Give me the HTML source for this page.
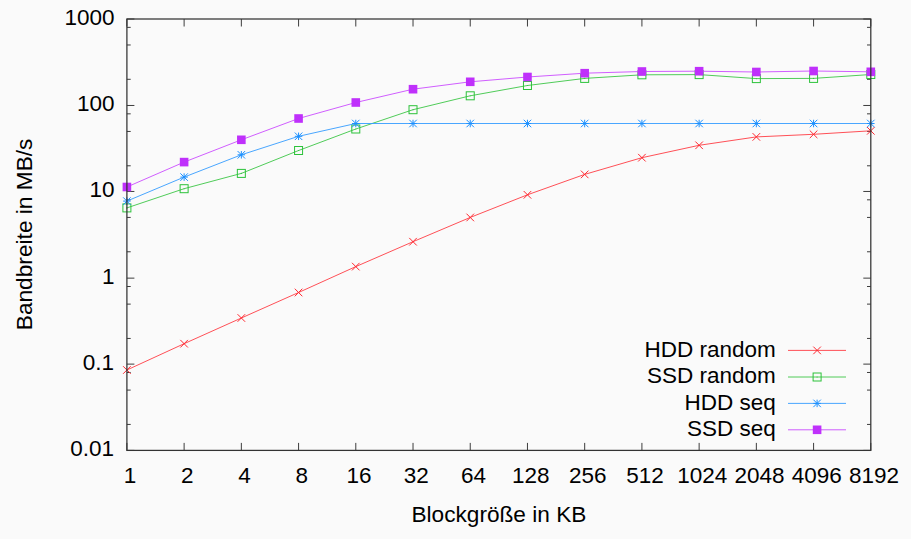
<!DOCTYPE html>
<html lang="de"><head><meta charset="utf-8"><title>Bandbreite</title>
<style>html,body{margin:0;padding:0;background:#fafafa;}svg{display:block;font-family:"Liberation Sans",sans-serif}</style></head>
<body>
<svg width="911" height="539" viewBox="0 0 911 539" font-size="22.5" fill="#000">
<rect width="911" height="539" fill="#fafafa"/>
<path d="M126.90 19.00h7.5M870.80 19.00h-7.5M126.90 27.36h3.8M870.80 27.36h-3.8M126.90 44.97h3.8M870.80 44.97h-3.8M126.90 79.31h3.8M870.80 79.31h-3.8M126.90 105.48h7.5M870.80 105.48h-7.5M126.90 113.84h3.8M870.80 113.84h-3.8M126.90 131.45h3.8M870.80 131.45h-3.8M126.90 165.79h3.8M870.80 165.79h-3.8M126.90 191.46h7.5M870.80 191.46h-7.5M126.90 199.82h3.8M870.80 199.82h-3.8M126.90 217.43h3.8M870.80 217.43h-3.8M126.90 251.77h3.8M870.80 251.77h-3.8M126.90 278.14h7.5M870.80 278.14h-7.5M126.90 286.50h3.8M870.80 286.50h-3.8M126.90 304.11h3.8M870.80 304.11h-3.8M126.90 338.45h3.8M870.80 338.45h-3.8M126.90 364.12h7.5M870.80 364.12h-7.5M126.90 372.48h3.8M870.80 372.48h-3.8M126.90 390.09h3.8M870.80 390.09h-3.8M126.90 424.43h3.8M870.80 424.43h-3.8M126.90 450.40h7.5M870.80 450.40h-7.5M126.90 450.40v-7.5M126.90 19.00v7.5M184.12 450.40v-7.5M184.12 19.00v7.5M241.35 450.40v-7.5M241.35 19.00v7.5M298.57 450.40v-7.5M298.57 19.00v7.5M355.79 450.40v-7.5M355.79 19.00v7.5M413.02 450.40v-7.5M413.02 19.00v7.5M470.24 450.40v-7.5M470.24 19.00v7.5M527.46 450.40v-7.5M527.46 19.00v7.5M584.68 450.40v-7.5M584.68 19.00v7.5M641.91 450.40v-7.5M641.91 19.00v7.5M699.13 450.40v-7.5M699.13 19.00v7.5M756.35 450.40v-7.5M756.35 19.00v7.5M813.58 450.40v-7.5M813.58 19.00v7.5M870.80 450.40v-7.5M870.80 19.00v7.5" stroke="#333333" stroke-width="0.95" fill="none"/>
<text x="114.50" y="24.95" text-anchor="end">1000</text>
<text x="114.50" y="110.88" text-anchor="end">100</text>
<text x="114.50" y="196.96" text-anchor="end">10</text>
<text x="114.50" y="284.44" text-anchor="end">1</text>
<text x="114.10" y="369.52" text-anchor="end">0.1</text>
<text x="114.10" y="455.80" text-anchor="end">0.01</text>
<text x="130.10" y="482.5" text-anchor="middle">1</text>
<text x="187.32" y="482.5" text-anchor="middle">2</text>
<text x="244.55" y="482.5" text-anchor="middle">4</text>
<text x="301.77" y="482.5" text-anchor="middle">8</text>
<text x="358.99" y="482.5" text-anchor="middle">16</text>
<text x="416.22" y="482.5" text-anchor="middle">32</text>
<text x="473.44" y="482.5" text-anchor="middle">64</text>
<text x="530.66" y="482.5" text-anchor="middle">128</text>
<text x="587.88" y="482.5" text-anchor="middle">256</text>
<text x="645.11" y="482.5" text-anchor="middle">512</text>
<text x="702.33" y="482.5" text-anchor="middle">1024</text>
<text x="759.55" y="482.5" text-anchor="middle">2048</text>
<text x="816.78" y="482.5" text-anchor="middle">4096</text>
<text x="874.00" y="482.5" text-anchor="middle">8192</text>
<text x="498.9" y="522" font-size="22.65" text-anchor="middle">Blockgröße in KB</text>
<text transform="translate(31.9,234.4) rotate(-90)" font-size="22.7" text-anchor="middle">Bandbreite in MB/s</text>
<polyline points="126.90,370.00 184.12,343.70 241.35,318.00 298.57,292.50 355.79,266.60 413.02,241.70 470.24,217.45 527.46,194.80 584.68,174.40 641.91,157.70 699.13,145.30 756.35,136.90 813.58,134.30 870.80,130.80" stroke="#ff3c44" stroke-width="0.9" fill="none"/>
<path d="M123.10 366.20L130.70 373.80M123.10 373.80L130.70 366.20" stroke="#ff2830" stroke-width="1.0" fill="none"/>
<path d="M180.32 339.90L187.92 347.50M180.32 347.50L187.92 339.90" stroke="#ff2830" stroke-width="1.0" fill="none"/>
<path d="M237.55 314.20L245.15 321.80M237.55 321.80L245.15 314.20" stroke="#ff2830" stroke-width="1.0" fill="none"/>
<path d="M294.77 288.70L302.37 296.30M294.77 296.30L302.37 288.70" stroke="#ff2830" stroke-width="1.0" fill="none"/>
<path d="M351.99 262.80L359.59 270.40M351.99 270.40L359.59 262.80" stroke="#ff2830" stroke-width="1.0" fill="none"/>
<path d="M409.22 237.90L416.82 245.50M409.22 245.50L416.82 237.90" stroke="#ff2830" stroke-width="1.0" fill="none"/>
<path d="M466.44 213.65L474.04 221.25M466.44 221.25L474.04 213.65" stroke="#ff2830" stroke-width="1.0" fill="none"/>
<path d="M523.66 191.00L531.26 198.60M523.66 198.60L531.26 191.00" stroke="#ff2830" stroke-width="1.0" fill="none"/>
<path d="M580.88 170.60L588.48 178.20M580.88 178.20L588.48 170.60" stroke="#ff2830" stroke-width="1.0" fill="none"/>
<path d="M638.11 153.90L645.71 161.50M638.11 161.50L645.71 153.90" stroke="#ff2830" stroke-width="1.0" fill="none"/>
<path d="M695.33 141.50L702.93 149.10M695.33 149.10L702.93 141.50" stroke="#ff2830" stroke-width="1.0" fill="none"/>
<path d="M752.55 133.10L760.15 140.70M752.55 140.70L760.15 133.10" stroke="#ff2830" stroke-width="1.0" fill="none"/>
<path d="M809.78 130.50L817.38 138.10M809.78 138.10L817.38 130.50" stroke="#ff2830" stroke-width="1.0" fill="none"/>
<path d="M867.00 127.00L874.60 134.60M867.00 134.60L874.60 127.00" stroke="#ff2830" stroke-width="1.0" fill="none"/>
<polyline points="126.90,207.90 184.12,188.70 241.35,173.40 298.57,150.50 355.79,129.00 413.02,109.70 470.24,95.80 527.46,85.50 584.68,78.40 641.91,74.80 699.13,74.60 756.35,78.60 813.58,78.40 870.80,74.50" stroke="#3cc646" stroke-width="0.9" fill="none"/>
<rect x="122.90" y="203.90" width="8.00" height="8.00" stroke="#2cc23a" stroke-width="1.0" fill="none"/><circle cx="126.90" cy="207.90" r="0.55" fill="#2cc23a"/>
<rect x="180.12" y="184.70" width="8.00" height="8.00" stroke="#2cc23a" stroke-width="1.0" fill="none"/><circle cx="184.12" cy="188.70" r="0.55" fill="#2cc23a"/>
<rect x="237.35" y="169.40" width="8.00" height="8.00" stroke="#2cc23a" stroke-width="1.0" fill="none"/><circle cx="241.35" cy="173.40" r="0.55" fill="#2cc23a"/>
<rect x="294.57" y="146.50" width="8.00" height="8.00" stroke="#2cc23a" stroke-width="1.0" fill="none"/><circle cx="298.57" cy="150.50" r="0.55" fill="#2cc23a"/>
<rect x="351.79" y="125.00" width="8.00" height="8.00" stroke="#2cc23a" stroke-width="1.0" fill="none"/><circle cx="355.79" cy="129.00" r="0.55" fill="#2cc23a"/>
<rect x="409.02" y="105.70" width="8.00" height="8.00" stroke="#2cc23a" stroke-width="1.0" fill="none"/><circle cx="413.02" cy="109.70" r="0.55" fill="#2cc23a"/>
<rect x="466.24" y="91.80" width="8.00" height="8.00" stroke="#2cc23a" stroke-width="1.0" fill="none"/><circle cx="470.24" cy="95.80" r="0.55" fill="#2cc23a"/>
<rect x="523.46" y="81.50" width="8.00" height="8.00" stroke="#2cc23a" stroke-width="1.0" fill="none"/><circle cx="527.46" cy="85.50" r="0.55" fill="#2cc23a"/>
<rect x="580.68" y="74.40" width="8.00" height="8.00" stroke="#2cc23a" stroke-width="1.0" fill="none"/><circle cx="584.68" cy="78.40" r="0.55" fill="#2cc23a"/>
<rect x="637.91" y="70.80" width="8.00" height="8.00" stroke="#2cc23a" stroke-width="1.0" fill="none"/><circle cx="641.91" cy="74.80" r="0.55" fill="#2cc23a"/>
<rect x="695.13" y="70.60" width="8.00" height="8.00" stroke="#2cc23a" stroke-width="1.0" fill="none"/><circle cx="699.13" cy="74.60" r="0.55" fill="#2cc23a"/>
<rect x="752.35" y="74.60" width="8.00" height="8.00" stroke="#2cc23a" stroke-width="1.0" fill="none"/><circle cx="756.35" cy="78.60" r="0.55" fill="#2cc23a"/>
<rect x="809.58" y="74.40" width="8.00" height="8.00" stroke="#2cc23a" stroke-width="1.0" fill="none"/><circle cx="813.58" cy="78.40" r="0.55" fill="#2cc23a"/>
<rect x="866.80" y="70.50" width="8.00" height="8.00" stroke="#2cc23a" stroke-width="1.0" fill="none"/><circle cx="870.80" cy="74.50" r="0.55" fill="#2cc23a"/>
<polyline points="126.90,201.10 184.12,177.10 241.35,154.80 298.57,136.30 355.79,123.50 413.02,123.50 470.24,123.50 527.46,123.50 584.68,123.50 641.91,123.50 699.13,123.50 756.35,123.50 813.58,123.50 870.80,123.50" stroke="#349cff" stroke-width="0.9" fill="none"/>
<path d="M123.15 197.35L130.65 204.85M123.15 204.85L130.65 197.35M123.15 201.10L130.65 201.10M126.90 197.35L126.90 204.85" stroke="#1c90ff" stroke-width="1.0" fill="none"/>
<path d="M180.37 173.35L187.87 180.85M180.37 180.85L187.87 173.35M180.37 177.10L187.87 177.10M184.12 173.35L184.12 180.85" stroke="#1c90ff" stroke-width="1.0" fill="none"/>
<path d="M237.60 151.05L245.10 158.55M237.60 158.55L245.10 151.05M237.60 154.80L245.10 154.80M241.35 151.05L241.35 158.55" stroke="#1c90ff" stroke-width="1.0" fill="none"/>
<path d="M294.82 132.55L302.32 140.05M294.82 140.05L302.32 132.55M294.82 136.30L302.32 136.30M298.57 132.55L298.57 140.05" stroke="#1c90ff" stroke-width="1.0" fill="none"/>
<path d="M352.04 119.75L359.54 127.25M352.04 127.25L359.54 119.75M352.04 123.50L359.54 123.50M355.79 119.75L355.79 127.25" stroke="#1c90ff" stroke-width="1.0" fill="none"/>
<path d="M409.27 119.75L416.77 127.25M409.27 127.25L416.77 119.75M409.27 123.50L416.77 123.50M413.02 119.75L413.02 127.25" stroke="#1c90ff" stroke-width="1.0" fill="none"/>
<path d="M466.49 119.75L473.99 127.25M466.49 127.25L473.99 119.75M466.49 123.50L473.99 123.50M470.24 119.75L470.24 127.25" stroke="#1c90ff" stroke-width="1.0" fill="none"/>
<path d="M523.71 119.75L531.21 127.25M523.71 127.25L531.21 119.75M523.71 123.50L531.21 123.50M527.46 119.75L527.46 127.25" stroke="#1c90ff" stroke-width="1.0" fill="none"/>
<path d="M580.93 119.75L588.43 127.25M580.93 127.25L588.43 119.75M580.93 123.50L588.43 123.50M584.68 119.75L584.68 127.25" stroke="#1c90ff" stroke-width="1.0" fill="none"/>
<path d="M638.16 119.75L645.66 127.25M638.16 127.25L645.66 119.75M638.16 123.50L645.66 123.50M641.91 119.75L641.91 127.25" stroke="#1c90ff" stroke-width="1.0" fill="none"/>
<path d="M695.38 119.75L702.88 127.25M695.38 127.25L702.88 119.75M695.38 123.50L702.88 123.50M699.13 119.75L699.13 127.25" stroke="#1c90ff" stroke-width="1.0" fill="none"/>
<path d="M752.60 119.75L760.10 127.25M752.60 127.25L760.10 119.75M752.60 123.50L760.10 123.50M756.35 119.75L756.35 127.25" stroke="#1c90ff" stroke-width="1.0" fill="none"/>
<path d="M809.83 119.75L817.33 127.25M809.83 127.25L817.33 119.75M809.83 123.50L817.33 123.50M813.58 119.75L813.58 127.25" stroke="#1c90ff" stroke-width="1.0" fill="none"/>
<path d="M867.05 119.75L874.55 127.25M867.05 127.25L874.55 119.75M867.05 123.50L874.55 123.50M870.80 119.75L870.80 127.25" stroke="#1c90ff" stroke-width="1.0" fill="none"/>
<polyline points="126.90,187.00 184.12,162.10 241.35,139.80 298.57,118.50 355.79,102.50 413.02,89.20 470.24,81.80 527.46,77.00 584.68,73.20 641.91,71.50 699.13,71.20 756.35,72.00 813.58,71.00 870.80,71.80" stroke="#cb4cff" stroke-width="0.9" fill="none"/>
<rect x="122.60" y="182.70" width="8.60" height="8.60" fill="#bf30fb"/>
<rect x="179.82" y="157.80" width="8.60" height="8.60" fill="#bf30fb"/>
<rect x="237.05" y="135.50" width="8.60" height="8.60" fill="#bf30fb"/>
<rect x="294.27" y="114.20" width="8.60" height="8.60" fill="#bf30fb"/>
<rect x="351.49" y="98.20" width="8.60" height="8.60" fill="#bf30fb"/>
<rect x="408.72" y="84.90" width="8.60" height="8.60" fill="#bf30fb"/>
<rect x="465.94" y="77.50" width="8.60" height="8.60" fill="#bf30fb"/>
<rect x="523.16" y="72.70" width="8.60" height="8.60" fill="#bf30fb"/>
<rect x="580.38" y="68.90" width="8.60" height="8.60" fill="#bf30fb"/>
<rect x="637.61" y="67.20" width="8.60" height="8.60" fill="#bf30fb"/>
<rect x="694.83" y="66.90" width="8.60" height="8.60" fill="#bf30fb"/>
<rect x="752.05" y="67.70" width="8.60" height="8.60" fill="#bf30fb"/>
<rect x="809.28" y="66.70" width="8.60" height="8.60" fill="#bf30fb"/>
<rect x="866.50" y="67.50" width="8.60" height="8.60" fill="#bf30fb"/>
<rect x="126.90" y="19.00" width="743.90" height="431.40" stroke="#333333" stroke-width="1.25" fill="none"/>
<text x="775.8" y="356.50" text-anchor="end">HDD random</text>
<path d="M788 350.4H846" stroke="#ff3c44" stroke-width="0.9" fill="none"/>
<path d="M813.30 346.60L820.90 354.20M813.30 354.20L820.90 346.60" stroke="#ff2830" stroke-width="1.0" fill="none"/>
<text x="775.8" y="383.10" text-anchor="end">SSD random</text>
<path d="M788 377.0H846" stroke="#3cc646" stroke-width="0.9" fill="none"/>
<rect x="813.10" y="373.00" width="8.00" height="8.00" stroke="#2cc23a" stroke-width="1.0" fill="none"/><circle cx="817.10" cy="377.00" r="0.55" fill="#2cc23a"/>
<text x="775.8" y="409.50" text-anchor="end">HDD seq</text>
<path d="M788 403.4H846" stroke="#349cff" stroke-width="0.9" fill="none"/>
<path d="M813.35 399.65L820.85 407.15M813.35 407.15L820.85 399.65M813.35 403.40L820.85 403.40M817.10 399.65L817.10 407.15" stroke="#1c90ff" stroke-width="1.0" fill="none"/>
<text x="775.8" y="435.90" text-anchor="end">SSD seq</text>
<path d="M788 429.8H846" stroke="#cb4cff" stroke-width="0.9" fill="none"/>
<rect x="812.80" y="425.50" width="8.60" height="8.60" fill="#bf30fb"/>
</svg>
</body></html>
